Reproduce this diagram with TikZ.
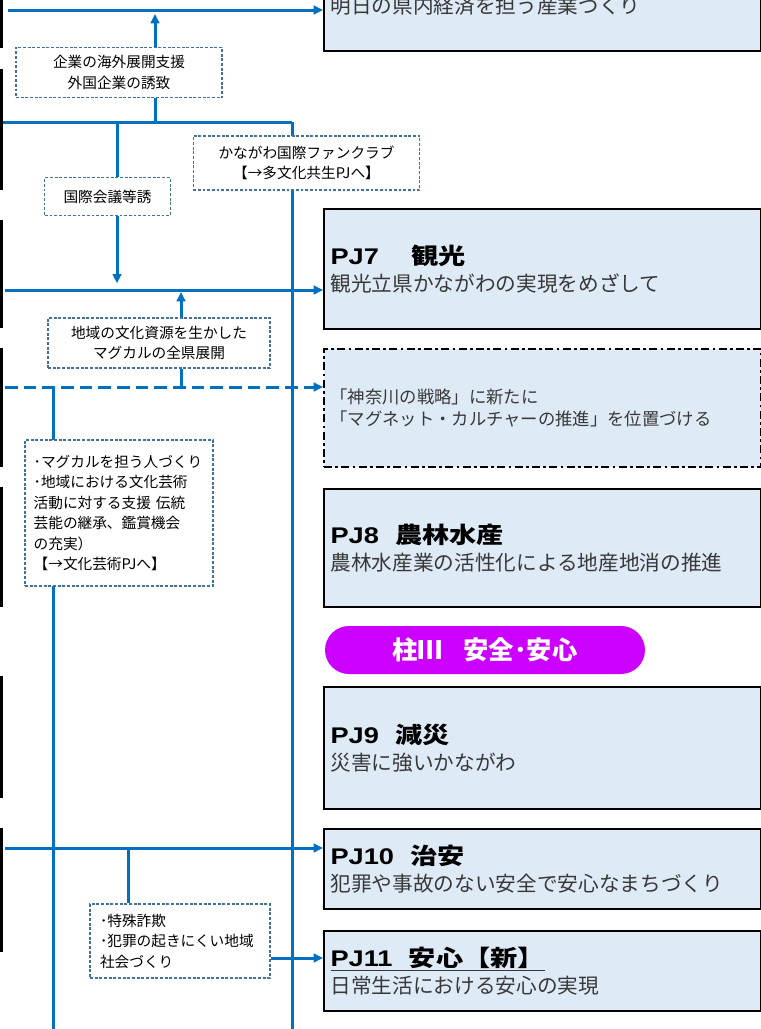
\documentclass[tikz,border=0pt]{standalone}
\usepackage{fontspec}
\usepackage{graphicx}
\setmainfont{Noto Sans CJK JP}
\setsansfont{Liberation Sans}
\usetikzlibrary{arrows.meta,positioning,backgrounds}
\definecolor{lineblue}{HTML}{0070C0}
\definecolor{boxblue}{HTML}{DEEAF6}
\definecolor{dashblue}{HTML}{41719C}
\definecolor{pillpurple}{HTML}{CC00FF}
\newcommand{\subtxt}{\fontsize{15.5}{20}\selectfont\color{black!78}}
\newcommand{\pjhead}[3][0.6em]{{\fontsize{17}{20}\selectfont\color{black}\bfseries\scalebox{1.2}[1]{{\sffamily #2}\hspace{#1}#3}}}

\begin{document}
\begin{tikzpicture}[x=0.75pt,y=-0.75pt,
	pjbox/.style={draw=black,line width=1.5pt,fill=boxblue,anchor=north west,minimum width=327.75pt,text width=318pt,align=left,inner xsep=4pt,font=\subtxt},
	notebox/.style={draw=dashblue,fill=white,line width=0.9pt,dash pattern=on 2.2pt off 1.3pt,font=\fontsize{11}{15.4}\selectfont,align=center,inner sep=0pt},
	pill/.style={fill=pillpurple,text=white,rounded corners=18pt,minimum width=240pt,minimum height=36pt,font=\fontsize{19}{20}\selectfont\bfseries},
	link/.style={draw=lineblue,line width=2.25pt},
	arr/.style={link,-{Triangle[length=7pt,width=6.5pt]}}]
	\useasboundingbox (0,0) rectangle (761,1029);
	\clip (0,0) rectangle (761,1029);
	% right column
	\node[pjbox,minimum height=67.5pt] (pj6) at (323,-40) {明日の県内経済を担う産業づくり};
	\node[pjbox,minimum height=90pt] (pj7) at (323,208) {\pjhead[1.2em]{PJ7}{観光}\\観光立県かながわの実現をめざして};
	\node[pjbox,minimum height=88.5pt,dash pattern=on 6pt off 2.5pt on 2pt off 2.5pt,font=\fontsize{13}{16}\selectfont\color{black!78}] (mg) at (323,348) {「神奈川の戦略」に新たに\\「マグネット・カルチャーの推進」を位置づける};
	\node[pjbox,minimum height=88.5pt] (pj8) at (323,488) {\pjhead{PJ8}{農林水産}\\農林水産業の活性化による地産地消の推進};
	\node[pill] (pillar) at (485,650) {柱Ⅲ\hspace{0.8em}安全･安心};
	\node[pjbox,minimum height=91.5pt] (pj9) at (323,686) {\pjhead{PJ9}{減災}\\災害に強いかながわ};
	\node[pjbox,minimum height=60pt] (pj10) at (323,828) {\pjhead{PJ10}{治安}\\犯罪や事故のない安全で安心なまちづくり};
	\node[pjbox,minimum height=60pt] (pj11) at (323,930) {\underline{\pjhead{PJ11}{安心【新】}}\\日常生活における安心の実現};
	% notes
	\node[notebox,minimum width=154.5pt,minimum height=38pt] (kigyo) at (119,72.5) {企業の海外展開支援\\外国企業の誘致};
	\node[notebox,minimum width=170pt,minimum height=40.5pt] (fan) at (306.5,163) {かながわ国際ファンクラブ\\【→多文化共生PJへ】};
	\node[notebox,minimum width=94pt,minimum height=28pt] (kaigi) at (107.5,196.5) {国際会議等誘};
	\node[notebox,minimum width=166.5pt,minimum height=37.5pt] (chiiki) at (159,343) {地域の文化資源を生かした\\マグカルの全県展開};
	\node[notebox,minimum width=141pt,minimum height=109.5pt,align=left,text width=128pt] (magcal) at (119,513) {･マグカルを担う人づくり\\･地域における文化芸術\\活動に対する支援\ 伝統\\芸能の継承、鑑賞機会\\の充実）\\【→文化芸術PJへ】};
	\node[notebox,minimum width=135pt,minimum height=55.5pt,align=left,text width=120pt] (tokushu) at (180,941) {･特殊詐欺\\･犯罪の起きにくい地域\\社会づくり};
	% line ends
	\coordinate (l1) at (8,10);
	\coordinate (l2) at (0,122);
	\coordinate (l3) at (5,290);
	\coordinate (l4) at (5,387);
	\coordinate (l5) at (5,848);
	\coordinate (btm) at (0,1029);
	\coordinate (x1) at (155,10);
	\coordinate (x2) at (292,122);
	\coordinate (x3) at (117,122);
	\coordinate (x4) at (181,290);
	\coordinate (x5) at (53,387);
	\coordinate (x6) at (128,848);
	\begin{scope}[on background layer]
		\draw[link] (x2) -- (x2 |- btm);
		\draw[link] (x5) -- (x5 |- btm);
	\end{scope}
	\draw[arr] (l1) -- (l1 -| pj6.west);
	\draw[arr,shorten >=3pt] (kigyo.north -| x1) -- (x1);
	\draw[link] (kigyo.south -| x1) -- (x1 |- l2);
	\draw[link] (l2) -- (x2);
	\draw[link] (x3) -- (kaigi.north -| x3);
	\draw[arr,shorten >=5pt] (kaigi.south -| x3) -- (x3 |- l3);
	\draw[arr] (l3) -- (l3 -| pj7.west);
	\draw[arr,shorten >=1.5pt] (chiiki.north -| x4) -- (x4);
	\draw[link] (chiiki.south -| x4) -- (x4 |- l4);
	\draw[arr,dash pattern=on 9.5pt off 4.5pt] (l4) -- (l4 -| mg.west);
	\draw[arr] (l5) -- (l5 -| pj10.west);
	\draw[link] (x6) -- (tokushu.north -| x6);
	\draw[arr] ([yshift=-12.75pt]tokushu.east) coordinate (t1) -- (t1 -| pj11.west);
	% cut-off boxes on the left edge
	\foreach \ya/\yb in {0/48,69/190,220/328,348/467,487/607,676/798,828/952}
		\draw[line width=2.2pt] (1.5,\ya) -- (1.5,\yb);
\end{tikzpicture}
\end{document}
